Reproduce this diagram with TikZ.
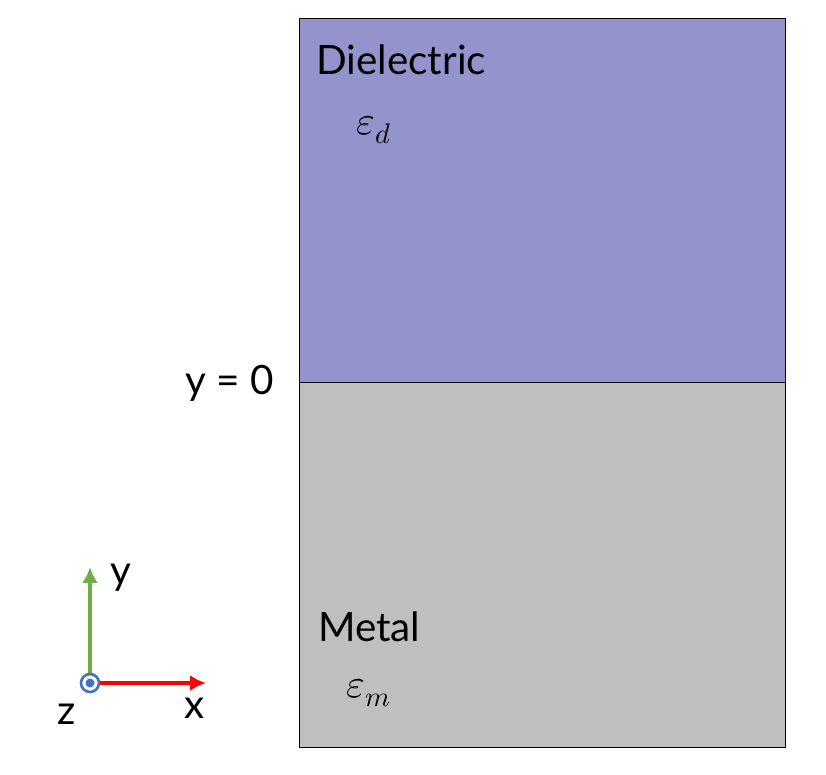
\documentclass[tikz,border=0pt]{standalone}
\usepackage{fontspec}
\setmainfont{Lato}
\usepackage{unicode-math}
\definecolor{dielec}{RGB}{148,147,204}
\definecolor{metal}{RGB}{191,191,191}
\definecolor{axisblue}{RGB}{68,114,196}
\definecolor{axisgreen}{RGB}{112,173,71}
\tikzset{
    label/.style={font=\fontsize{23}{28}\selectfont},
    axisarrow/.style={line width=2.5pt,-{Latex[length=9pt,width=9pt]}}
}
\usetikzlibrary{arrows.meta}
\begin{document}
\begin{tikzpicture}[x=0.02cm,y=-0.02cm]
    \useasboundingbox (0,0) rectangle (826,775);
    % Layers
    \fill[dielec] (299,18) rectangle (785,382);
    \fill[metal] (299,382) rectangle (785,747);
    \draw[thin] (299,18) rectangle (785,747);
    \draw[thin] (299,382) -- (785,382);
    \node[label,anchor=west] (dielname) at (310,60) {Dielectric};
    \node[label,anchor=west] (epsd) at (350,130) {$\varepsilon_d$};
    \node[label,anchor=west] (metname) at (312,627) {Metal};
    \node[label,anchor=west] (epsm) at (340,693) {$\varepsilon_m$};
    \node[label,anchor=east] (yzero) at (280,383) {y = 0};

    % Axes
    \coordinate (origin) at (90,683);
    \draw[axisarrow,axisgreen] (origin) -- (90,567) coordinate (ytip);
    \draw[axisarrow,red] (origin) -- (206,683) coordinate (xtip);
    \draw[axisblue,line width=1.5pt,fill=white] (origin) circle (9);
    \fill[axisblue] (origin) circle (4.5);
    \node[label] (ylab) at (121,578) {y};
    \node[label] (xlab) at (195,708) {x};
    \node[label] (zlab) at (67,714) {z};
\end{tikzpicture}
\end{document}
